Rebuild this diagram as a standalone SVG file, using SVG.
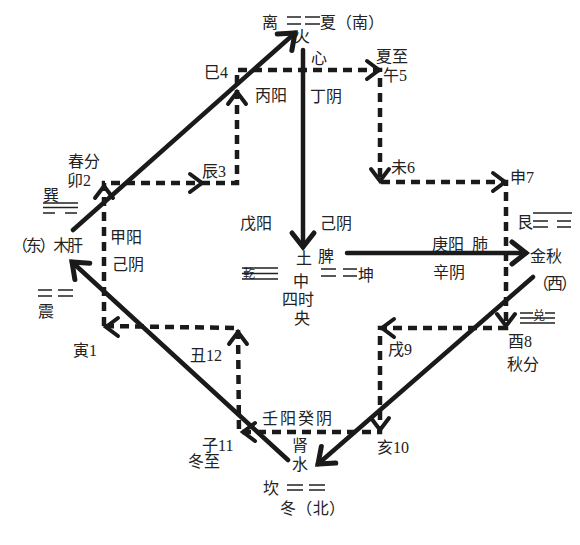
<svg xmlns="http://www.w3.org/2000/svg" xmlns:xlink="http://www.w3.org/1999/xlink" width="580" height="545" viewBox="0 0 580 545">
<style>
text{font-family:"Liberation Serif","Noto Sans CJK SC",serif;font-size:16px;fill:#222}
.sm{font-size:12px}
.tri{stroke:#222;stroke-width:1.6;fill:none}
.dash{fill:none;stroke:#1a1a1a;stroke-width:4.5;stroke-dasharray:9 6}
.solid{fill:none;stroke:#1a1a1a;stroke-width:4.5;stroke-linecap:round}
.ah{fill:none;stroke:#1a1a1a;stroke-width:4;stroke-linecap:round;stroke-linejoin:miter}
</style>
<defs>
<path id="v" d="M-12,-9 L0,0 L-12,9"/>
<marker id="big" markerUnits="userSpaceOnUse" markerWidth="30" markerHeight="30" refX="0" refY="0" viewBox="-20 -15 25 30" orient="auto">
<path d="M-14,-11 L0,0 L-14,11" fill="none" stroke="#1a1a1a" stroke-width="5" stroke-linecap="round"/>
</marker>
</defs>
<rect width="580" height="545" fill="#fff"/>

<g id="connectors">
<path class="dash" d="M104,326 L104,183 L237,183 L237,70 L380,70 L380,182 L506,182 L506,328 L380,328 L380,432 L239,432 L238,328 Z"/>
<g class="ah">
<use xlink:href="#v" transform="translate(104,186) rotate(-90)"/>
<use xlink:href="#v" transform="translate(202,183)"/>
<use xlink:href="#v" transform="translate(237,92) rotate(-90)"/>
<use xlink:href="#v" transform="translate(379,70)"/>
<use xlink:href="#v" transform="translate(380,181) rotate(90)"/>
<use xlink:href="#v" transform="translate(505,182)"/>
<use xlink:href="#v" transform="translate(506,326) rotate(90)"/>
<use xlink:href="#v" transform="translate(382,328) rotate(180)"/>
<use xlink:href="#v" transform="translate(380,430) rotate(90)"/>
<use xlink:href="#v" transform="translate(243,432) rotate(180)"/>
<use xlink:href="#v" transform="translate(238,332) rotate(-90)"/>
<use xlink:href="#v" transform="translate(106,327) rotate(180)"/>
</g>
<line class="solid" x1="73" y1="230" x2="295" y2="33" marker-end="url(#big)"/>
<line class="solid" x1="303" y1="50" x2="303" y2="247" marker-end="url(#big)"/>
<line class="solid" x1="347" y1="253" x2="526" y2="253" marker-end="url(#big)"/>
<line class="solid" x1="533" y1="277" x2="318" y2="464" marker-end="url(#big)"/>
<line class="solid" x1="288" y1="460" x2="72" y2="262" marker-end="url(#big)"/>
</g>

<g id="south">
<text x="262" y="28">离</text>
<path class="tri" d="M287,17 H301 M305,17 H320 M287,24 H301 M305,24 H320"/>
<text x="320" y="28" textLength="64">夏（南）</text>
</g>
<g id="fire"><text x="294" y="42">火</text></g>
<g id="heart"><text x="311" y="64">心</text></g>
<g id="wu5"><text x="376" y="62">夏至</text><text x="383" y="81">午5</text></g>
<g id="si4"><text x="204" y="78">巳4</text></g>
<g id="bingding"><text x="255" y="101">丙阳</text><text x="310" y="102">丁阴</text></g>
<g id="chen3"><text x="202" y="177">辰3</text></g>
<g id="mao2"><text x="68" y="167">春分</text><text x="67" y="186">卯2</text></g>
<g id="xun">
<text x="43" y="201">巽</text>
<path class="tri" d="M43,203 H78 M43,207.5 H78 M43,213 H55 M65,213 H77"/>
</g>
<g id="wood-liver"><text x="12" y="251" textLength="71">（东）木肝</text></g>
<g id="jiaji"><text x="110" y="243">甲阳</text><text x="112" y="270">己阴</text></g>
<g id="zhen">
<path class="tri" d="M38,290 H52 M58,290 H73 M38,296 H52 M58,296 H73"/>
<text x="38" y="317">震</text>
</g>
<g id="yin1"><text x="73" y="356">寅1</text></g>
<g id="chou12"><text x="190" y="361">丑12</text></g>
<g id="zi11"><text x="202" y="451">子11</text><text x="188" y="467">冬至</text></g>
<g id="renggui"><text x="262" y="424" textLength="70">壬阳癸阴</text></g>
<g id="kidney-water"><text x="292" y="451">肾</text><text x="292" y="470">水</text></g>
<g id="hai10"><text x="377" y="453">亥10</text></g>
<g id="north">
<text x="263" y="494">坎</text>
<path class="tri" d="M287,485 H303 M309,485 H325 M287,490 H303 M309,490 H325"/>
<text x="280" y="514" textLength="65">冬（北）</text>
</g>
<g id="center">
<text x="240" y="229">戊阳</text>
<text x="320" y="229">己阴</text>
<text x="296" y="264">土</text>
<text x="318" y="262">脾</text>
<text class="sm" x="243" y="278">乾</text>
<path class="tri" d="M242,268 H278 M242,273.5 H278 M242,279 H278"/>
<path class="tri" d="M321,269 H336 M343,269 H357 M321,276 H336 M343,276 H357"/>
<text x="358" y="281">坤</text>
<text x="293" y="287">中</text>
<text x="282" y="305">四时</text>
<text x="294" y="324">央</text>
</g>
<g id="wei6"><text x="391" y="173">未6</text></g>
<g id="shen7"><text x="510" y="183">申7</text></g>
<g id="gen">
<text x="517" y="228">艮</text>
<path class="tri" d="M533,213 H572 M533,221 H548 M557,221 H571 M533,227 H548 M557,227 H571"/>
</g>
<g id="lung-metal">
<text x="432" y="250">庚阳</text><text x="472" y="250">肺</text>
<text x="433" y="278">辛阴</text>
<text x="530" y="262">金秋</text>
<text x="533" y="289" textLength="44">（西）</text>
</g>
<g id="dui">
<text class="sm" x="533" y="320">兑</text>
<path class="tri" d="M520,313 H533 M545,313 H555 M520,318 H555 M520,323 H555"/>
</g>
<g id="you8"><text x="508" y="347">酉8</text><text x="507" y="370">秋分</text></g>
<g id="xu9"><text x="388" y="355">戌9</text></g>
</svg>
